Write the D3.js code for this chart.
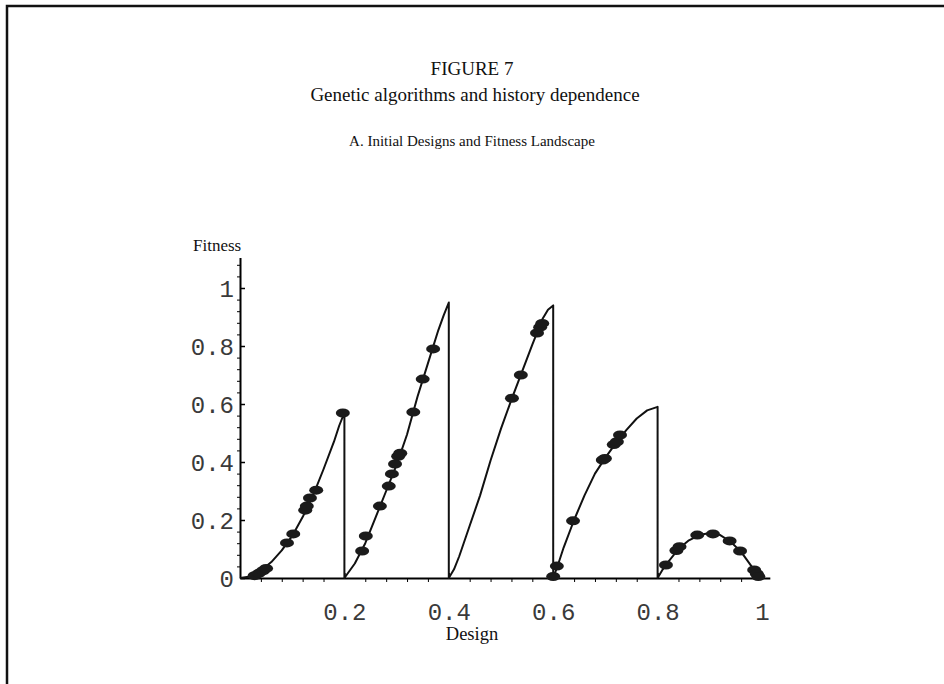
<!DOCTYPE html>
<html>
<head>
<meta charset="utf-8">
<script src="https://cdn.jsdelivr.net/npm/d3@7"></script>
<style>
  body { margin: 0; background: #fff; }
  .serif { font-family: "Liberation Serif", "DejaVu Serif", serif; fill: #111; }
  .tick text { font-family: "Liberation Mono", "DejaVu Sans Mono", monospace; font-size: 24px; fill: #3a3a3a; }
</style>
</head>
<body>
<div id="plot"></div>
<script>
// fitness landscape (the line); each peak drops back to 0
const curveDesign = [0, 0.02, 0.04, 0.06, 0.08, 0.10, 0.12, 0.14, 0.16, 0.18, 0.19, 0.2,
  0.2, 0.22, 0.24, 0.26, 0.28, 0.30, 0.32, 0.34, 0.36, 0.38, 0.39, 0.4,
  0.4, 0.41, 0.42, 0.44, 0.46, 0.48, 0.50, 0.52, 0.54, 0.56, 0.57, 0.58, 0.59, 0.6,
  0.6, 0.61, 0.62, 0.64, 0.66, 0.68, 0.70, 0.72, 0.74, 0.76, 0.78, 0.8,
  0.8, 0.81, 0.82, 0.84, 0.86, 0.88, 0.90, 0.92, 0.94, 0.96, 0.98, 0.995];
const curveFitness = [0, 0.005, 0.025, 0.055, 0.095, 0.145, 0.21, 0.285, 0.375, 0.47, 0.525, 0.57,
  0, 0.05, 0.12, 0.21, 0.30, 0.39, 0.495, 0.625, 0.74, 0.855, 0.905, 0.95,
  0, 0.03, 0.075, 0.18, 0.285, 0.405, 0.515, 0.615, 0.71, 0.805, 0.85, 0.895, 0.925, 0.94,
  0, 0.05, 0.105, 0.2, 0.285, 0.36, 0.415, 0.465, 0.51, 0.55, 0.578, 0.59,
  0, 0.03, 0.055, 0.1, 0.13, 0.148, 0.155, 0.148, 0.125, 0.09, 0.04, 0];

// initial population of designs
const popDesign = [0.028, 0.036, 0.044, 0.050, 0.090, 0.102, 0.125, 0.128, 0.134, 0.146, 0.197,
  0.234, 0.241, 0.268, 0.285, 0.291, 0.297, 0.303, 0.307, 0.332, 0.350, 0.370,
  0.521, 0.538, 0.569, 0.575, 0.579,
  0.600, 0.607, 0.638, 0.695, 0.699, 0.716, 0.722, 0.728,
  0.816, 0.836, 0.842, 0.876, 0.906, 0.938, 0.958, 0.985, 0.990, 0.993];
const popFitness = [0.008, 0.016, 0.025, 0.033, 0.121, 0.152, 0.234, 0.248, 0.276, 0.303, 0.569,
  0.093, 0.145, 0.248, 0.317, 0.359, 0.393, 0.420, 0.430, 0.572, 0.686, 0.790,
  0.620, 0.700, 0.845, 0.865, 0.878,
  0.005, 0.041, 0.197, 0.407, 0.412, 0.460, 0.470, 0.493,
  0.045, 0.095, 0.108, 0.148, 0.152, 0.128, 0.093, 0.028, 0.015, 0.005];

const xTicks = [0.2, 0.4, 0.6, 0.8, 1];
const yTicks = [0, 0.2, 0.4, 0.6, 0.8, 1];

const width = 944, height = 684;

const svg = d3.select("#plot").append("svg")
  .attr("width", width)
  .attr("height", height);

// page frame (top and left edge only)
svg.append("path")
  .attr("d", "M7,684 V6 H944")
  .attr("fill", "none")
  .attr("stroke", "#111")
  .attr("stroke-width", 2.5);

// titles
svg.append("text").attr("class", "serif")
  .attr("x", 472).attr("y", 75)
  .attr("text-anchor", "middle").style("font-size", "19px")
  .text("FIGURE 7");
svg.append("text").attr("class", "serif")
  .attr("x", 475).attr("y", 101)
  .attr("text-anchor", "middle").style("font-size", "19px")
  .text("Genetic algorithms and history dependence");
svg.append("text").attr("class", "serif")
  .attr("x", 472).attr("y", 146)
  .attr("text-anchor", "middle").style("font-size", "15px")
  .text("A.  Initial Designs and Fitness Landscape");

const x = d3.scaleLinear().domain([0, 1]).range([240, 762]);
const y = d3.scaleLinear().domain([0, 1]).range([578, 288]);

// axes: extended a little past the last tick like the original
const xAx = x.copy().domain([0, 1.015]).range([x(0), x(1.015)]);
const yAx = y.copy().domain([0, 1.105]).range([y(0), y(1.105)]);

const minorX = d3.range(0.04, 1.001, 0.04).filter(v => xTicks.every(t => Math.abs(t - v) > 1e-6));
const minorY = d3.range(0.04, 1.1, 0.04).filter(v => yTicks.every(t => Math.abs(t - v) > 1e-6));

// x axis minor ticks (downward)
svg.append("g")
  .attr("transform", "translate(0," + y(0) + ")")
  .call(d3.axisBottom(xAx).tickValues(minorX).tickSize(4).tickSizeOuter(0).tickFormat(""))
  .call(g => g.select(".domain").attr("stroke-width", 2));
// x axis major ticks and labels
svg.append("g")
  .attr("transform", "translate(0," + y(0) + ")")
  .call(d3.axisBottom(xAx).tickValues(xTicks).tickSize(-5).tickPadding(25).tickFormat(d => d === 1 ? "1" : d3.format(".1f")(d)))
  .call(g => g.select(".domain").remove())
  .call(g => g.selectAll("line").attr("stroke-width", 1.5));

// y axis minor ticks (left)
svg.append("g")
  .attr("transform", "translate(" + x(0) + ",0)")
  .call(d3.axisLeft(yAx).tickValues(minorY).tickSize(3).tickSizeOuter(0).tickFormat(""))
  .call(g => g.select(".domain").attr("stroke-width", 2));
// y axis major ticks and labels
svg.append("g")
  .attr("transform", "translate(" + x(0) + ",0)")
  .call(d3.axisLeft(yAx).tickValues(yTicks).tickSize(-5).tickPadding(6).tickFormat(d => (d === 0 || d === 1) ? String(d) : d3.format(".1f")(d)))
  .call(g => g.select(".domain").remove())
  .call(g => g.selectAll("line").attr("stroke-width", 1.5))
  .call(g => g.selectAll("text").attr("dy", "0.36em"));

// axis titles
svg.append("text").attr("class", "serif")
  .attr("x", 193).attr("y", 251)
  .style("font-size", "17px")
  .text("Fitness");
svg.append("text").attr("class", "serif")
  .attr("x", 472).attr("y", 640)
  .attr("text-anchor", "middle").style("font-size", "18.5px")
  .text("Design");

// landscape
const curve = curveDesign.map((d, i) => [d, curveFitness[i]]);
svg.append("path")
  .datum(curve)
  .attr("fill", "none")
  .attr("stroke", "#111")
  .attr("stroke-width", 2)
  .attr("stroke-linejoin", "round")
  .attr("d", d3.line().x(d => x(d[0])).y(d => y(d[1])));

// population
const pts = popDesign.map((d, i) => ({ d: d, f: popFitness[i] }));
svg.append("g")
  .selectAll("ellipse")
  .data(pts)
  .enter()
  .append("ellipse")
    .attr("cx", p => x(p.d))
    .attr("cy", p => y(p.f))
    .attr("rx", 7)
    .attr("ry", 4.5)
    .attr("fill", "#1b1b1b");
</script>
</body>
</html>
